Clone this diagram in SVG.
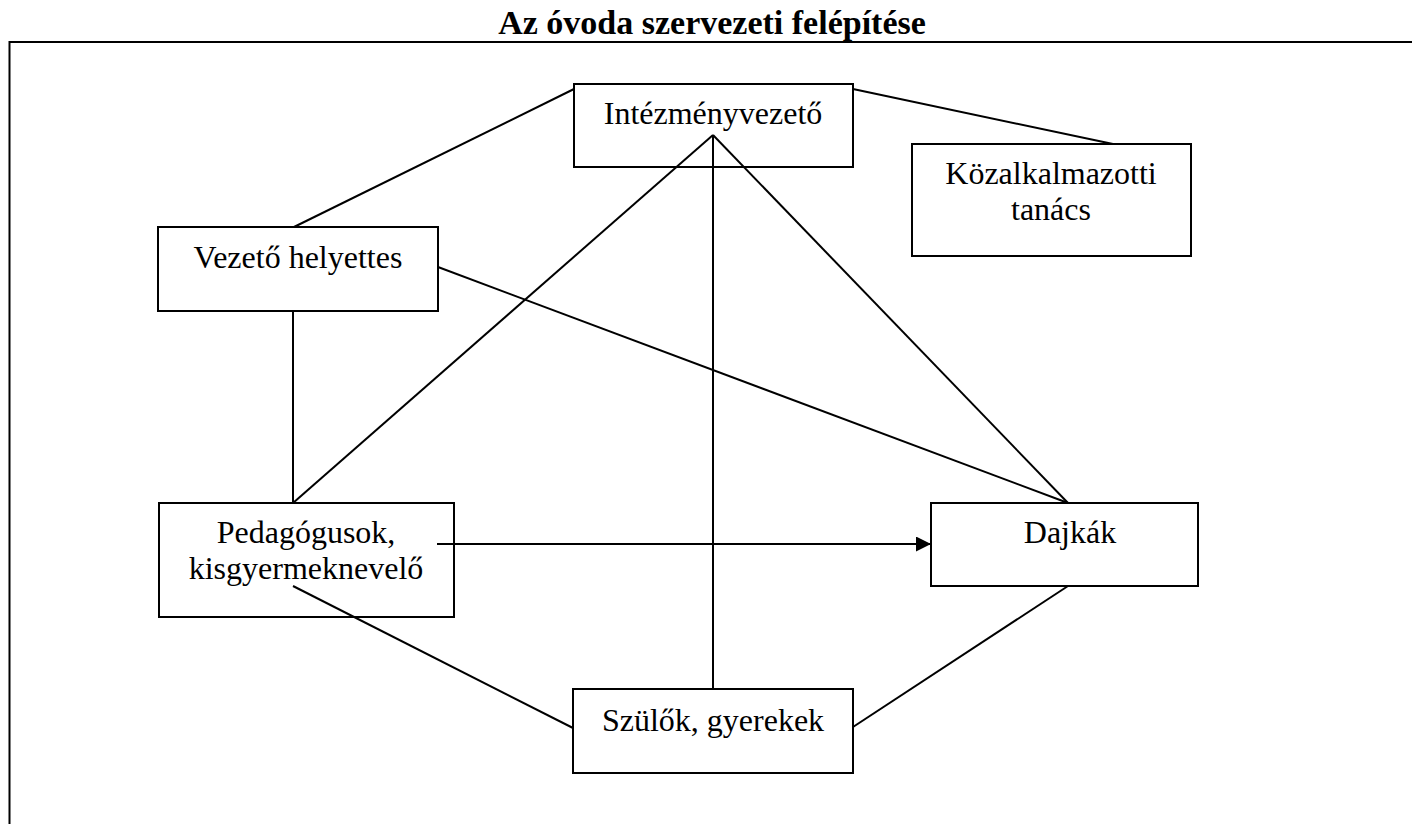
<svg xmlns="http://www.w3.org/2000/svg" width="1412" height="824" viewBox="0 0 1412 824">
<style>
.box{fill:none;stroke:#000;stroke-width:2}
.lbl{font-family:"Liberation Serif","Times New Roman",serif;font-size:32px;fill:#000;text-anchor:middle}
.title{font-family:"Liberation Serif","Times New Roman",serif;font-size:34px;font-weight:bold;fill:#000;text-anchor:middle}
.ln{stroke:#000;stroke-width:2;fill:none}
</style>
<defs>
<marker id="arr" markerWidth="15" markerHeight="15" refX="15" refY="7.5" orient="auto" markerUnits="userSpaceOnUse">
<path d="M0,0 L15,7.5 L0,15 Z" fill="#000"/>
</marker>
</defs>
<rect width="1412" height="824" fill="#fff"/>
<text class="title" x="712" y="34">Az óvoda szervezeti felépítése</text>
<path class="ln" d="M9.5,824 V42 H1412"/>
<g id="connectors">
<line class="ln" x1="294" y1="227" x2="574" y2="89"/>
<line class="ln" x1="853" y1="89" x2="1113" y2="144"/>
<line class="ln" x1="713" y1="135" x2="293" y2="503"/>
<line class="ln" x1="713" y1="135" x2="713" y2="689"/>
<line class="ln" x1="713" y1="135" x2="1068" y2="503"/>
<line class="ln" x1="438" y1="267" x2="1068" y2="503"/>
<line class="ln" x1="293" y1="311" x2="293" y2="503"/>
<line class="ln" x1="437" y1="544" x2="931" y2="544" marker-end="url(#arr)"/>
<line class="ln" x1="293" y1="586" x2="573" y2="728"/>
<line class="ln" x1="1068" y1="586" x2="853" y2="727"/>
</g>
<g id="intezmenyvezeto">
<rect class="box" x="574" y="84" width="279" height="83"/>
<text class="lbl" x="713" y="124">Intézményvezető</text>
</g>
<g id="kozalkalmazotti">
<rect class="box" x="912" y="144" width="279" height="112"/>
<text class="lbl" x="1051" y="184">Közalkalmazotti</text>
<text class="lbl" x="1051" y="220">tanács</text>
</g>
<g id="vezeto-helyettes">
<rect class="box" x="158" y="227" width="280" height="84"/>
<text class="lbl" x="298" y="268">Vezető helyettes</text>
</g>
<g id="pedagogusok">
<rect class="box" x="159" y="503" width="295" height="114"/>
<text class="lbl" x="306" y="543">Pedagógusok,</text>
<text class="lbl" x="306" y="579">kisgyermeknevelő</text>
</g>
<g id="dajkak">
<rect class="box" x="931" y="503" width="267" height="83"/>
<text class="lbl" x="1070" y="543">Dajkák</text>
</g>
<g id="szulok">
<rect class="box" x="573" y="689" width="280" height="84"/>
<text class="lbl" x="713" y="731">Szülők, gyerekek</text>
</g>
</svg>
